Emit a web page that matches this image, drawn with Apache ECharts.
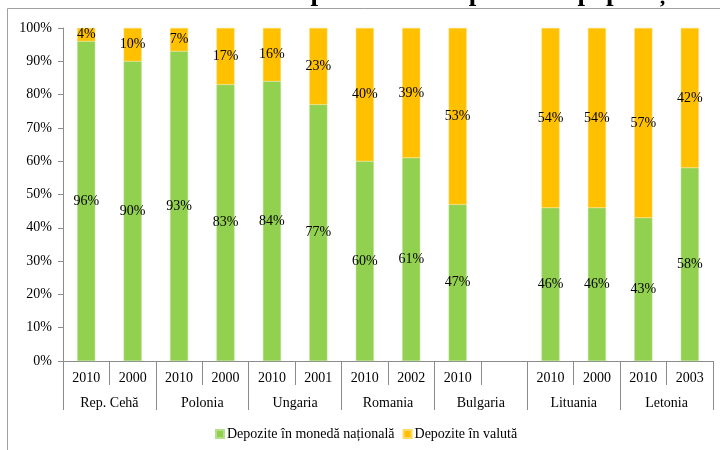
<!DOCTYPE html>
<html>
<head>
<meta charset="utf-8">
<script src="https://cdn.jsdelivr.net/npm/echarts@6/dist/echarts.min.js"></script>
<style>
  html, body { margin: 0; padding: 0; background: #fff; }
  #chart { width: 720px; height: 450px; }
</style>
</head>
<body>
<div id="chart"></div>
<script>
  // categorii: ani (nivelul 1) si tari (nivelul 2)
  const years = ['2010', '2000', '2010', '2000', '2010', '2001', '2010', '2002', '2010', '', '2010', '2000', '2010', '2003']
  const countries = ['Rep. Cehă', 'Polonia', 'Ungaria', 'Romania', 'Bulgaria', 'Lituania', 'Letonia']
  // structura depozitelor, %
  const nationala = [96, 90, 93, 83, 84, 77, 60, 61, 47, null, 46, 46, 43, 58]
  const valuta = [4, 10, 7, 17, 16, 23, 40, 39, 53, null, 54, 54, 57, 42]
  const yTicks = [0, 10, 20, 30, 40, 50, 60, 70, 80, 90, 100]

  const serif = 'Liberation Serif'
  const axisGray = '#8c8c8c'

  const chart = echarts.init(document.getElementById('chart'))

  const labelOpt = {
    show: true,
    position: 'inside',
    color: '#000',
    fontFamily: serif,
    fontSize: 14,
    formatter: p => p.value + '%'
  }

  const option = {
    animation: false,
    textStyle: { fontFamily: serif },
    graphic: [
      {
        type: 'text',
        right: 27,
        top: -20,
        style: {
          text: 'Graficul 14 – Structura pe valute a depozitelor populației',
          font: 'bold 27px "Liberation Serif"',
          fill: '#000'
        }
      },
      {
        type: 'rect',
        shape: { x: 7.5, y: 8.5, width: 730, height: 460 },
        style: { fill: 'none', stroke: '#a0a0a0', lineWidth: 1 }
      }
    ],
    grid: { left: 63, right: 7, top: 28, bottom: 89, containLabel: false },
    legend: {
      left: 210,
      top: 422,
      itemWidth: 8,
      itemHeight: 8,
      itemGap: 8,
      icon: 'rect',
      textStyle: { fontFamily: serif, fontSize: 14, color: '#000', padding: [0, 0, 0, -2] },
      data: ['Depozite în monedă națională', 'Depozite în valută']
    },
    xAxis: [
      {
        type: 'category',
        data: years,
        axisLine: { lineStyle: { color: axisGray } },
        axisTick: { show: true, interval: 0, length: 24, lineStyle: { color: axisGray } },
        axisLabel: { interval: 0, color: '#000', fontFamily: serif, fontSize: 14, margin: 10 }
      },
      {
        type: 'category',
        position: 'bottom',
        offset: 24,
        data: countries,
        axisLine: { show: false },
        axisTick: { show: true, interval: 0, length: 25, lineStyle: { color: axisGray } },
        axisLabel: { interval: 0, color: '#000', fontFamily: serif, fontSize: 14, margin: 11 }
      }
    ],
    yAxis: {
      type: 'value',
      min: 0,
      max: 100,
      interval: 10,
      axisLine: { show: true, lineStyle: { color: axisGray } },
      axisTick: { show: true, length: 5, lineStyle: { color: axisGray } },
      splitLine: { show: false },
      axisLabel: {
        color: '#000',
        fontFamily: serif,
        fontSize: 14,
        margin: 11,
        formatter: v => yTicks.includes(v) ? v + '%' : ''
      }
    },
    series: [
      {
        name: 'Depozite în monedă națională',
        type: 'bar',
        stack: 'total',
        xAxisIndex: 0,
        barWidth: 18,
        data: nationala,
        itemStyle: { color: '#92D050', borderColor: '#b5e08a', borderWidth: 0.5 },
        label: labelOpt
      },
      {
        name: 'Depozite în valută',
        type: 'bar',
        stack: 'total',
        xAxisIndex: 0,
        barWidth: 18,
        data: valuta,
        itemStyle: { color: '#FFC000', borderColor: '#ffd966', borderWidth: 0.5 },
        label: labelOpt
      }
    ]
  }

  chart.setOption(option)
</script>
</body>
</html>
